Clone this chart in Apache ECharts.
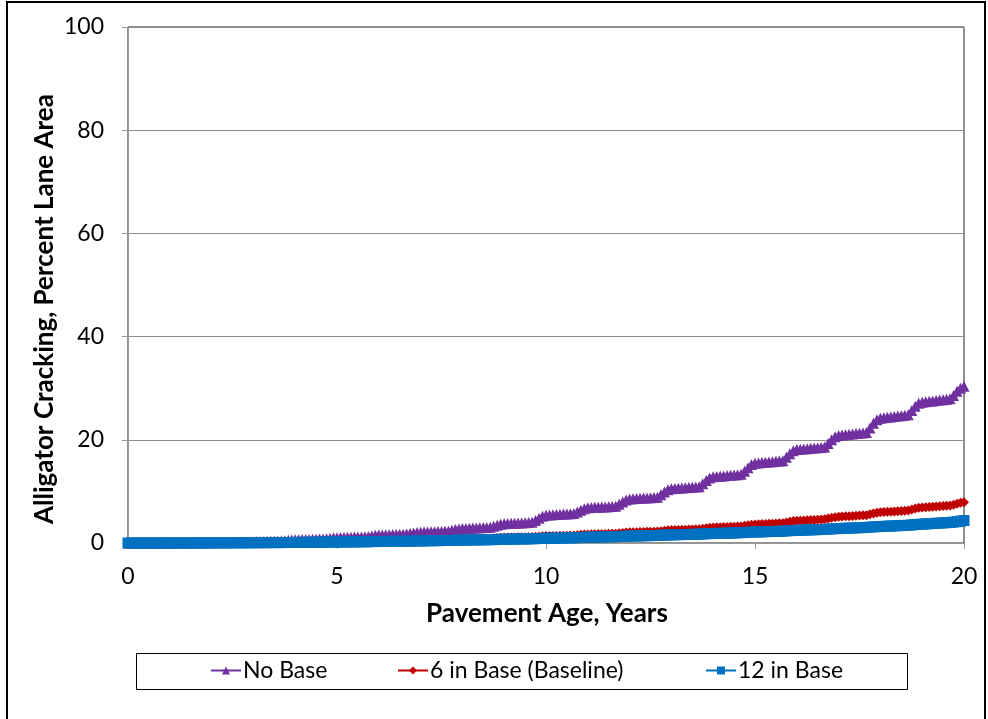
<!DOCTYPE html>
<html>
<head>
<meta charset="utf-8">
<script src="https://cdn.jsdelivr.net/npm/echarts@6/dist/echarts.min.js"></script>
<style>
html,body{margin:0;padding:0;background:#fff;}
#chart{width:988px;height:719px;}
</style>
</head>
<body>
<div id="chart"></div>
<script>
// Monthly observations from age 0 to 20 years (241 points per series)
const seriesNames = ["No Base", "6 in Base (Baseline)", "12 in Base"];
const xTicks = [0, 5, 10, 15, 20];
const yTicks = [0, 20, 40, 60, 80, 100];

const noBase = [
  0,0,0,0,0,0,0,0.01,0.01,0.01,0.02,0.02,
  0.03,0.03,0.03,0.03,0.03,0.04,0.04,0.04,0.05,0.06,0.07,0.08,
  0.09,0.09,0.10,0.10,0.10,0.11,0.11,0.11,0.12,0.14,0.17,0.20,
  0.24,0.27,0.29,0.31,0.33,0.35,0.36,0.38,0.40,0.45,0.52,0.58,
  0.62,0.64,0.66,0.68,0.70,0.72,0.74,0.76,0.78,0.84,0.92,1.00,
  1.04,1.06,1.08,1.10,1.12,1.14,1.16,1.18,1.20,1.28,1.38,1.48,
  1.54,1.56,1.58,1.61,1.63,1.65,1.68,1.70,1.72,1.82,1.95,2.05,
  2.10,2.12,2.15,2.18,2.20,2.22,2.25,2.28,2.30,2.45,2.60,2.72,
  2.80,2.83,2.86,2.89,2.92,2.95,2.98,3.02,3.05,3.25,3.45,3.65,
  3.75,3.78,3.81,3.84,3.87,3.90,3.93,3.96,4.00,4.35,4.80,5.20,
  5.40,5.44,5.48,5.52,5.56,5.60,5.64,5.68,5.72,6.00,6.35,6.65,
  6.85,6.88,6.91,6.94,6.97,7.00,7.03,7.06,7.10,7.50,7.95,8.35,
  8.55,8.58,8.62,8.66,8.70,8.74,8.78,8.82,8.86,9.35,9.90,10.30,
  10.50,10.55,10.60,10.65,10.70,10.75,10.80,10.85,10.90,11.50,12.10,12.60,
  12.85,12.90,12.95,13.00,13.06,13.12,13.18,13.24,13.30,13.90,14.60,15.20,
  15.45,15.52,15.58,15.64,15.70,15.76,15.82,15.88,15.95,16.60,17.30,17.90,
  18.10,18.16,18.22,18.28,18.34,18.40,18.46,18.52,18.60,19.30,20.00,20.60,
  20.85,20.92,20.99,21.06,21.13,21.20,21.27,21.34,21.42,22.30,23.20,23.90,
  24.20,24.28,24.36,24.44,24.52,24.60,24.68,24.76,24.85,25.70,26.50,27.10,
  27.30,27.38,27.46,27.54,27.62,27.70,27.78,27.86,27.95,28.60,29.40,30.00,
  30.40
];

const sixInBase = [
  0,0,0,0,0,0,0,0,0,0,0.01,0.01,
  0.01,0.01,0.01,0.01,0.01,0.02,0.02,0.02,0.02,0.02,0.03,0.03,
  0.03,0.03,0.03,0.04,0.04,0.04,0.04,0.04,0.05,0.05,0.06,0.06,
  0.06,0.07,0.07,0.07,0.08,0.08,0.08,0.09,0.09,0.10,0.11,0.12,
  0.13,0.13,0.14,0.14,0.15,0.15,0.16,0.16,0.17,0.18,0.20,0.22,
  0.23,0.24,0.25,0.26,0.27,0.28,0.29,0.30,0.31,0.33,0.36,0.39,
  0.40,0.41,0.42,0.43,0.44,0.45,0.46,0.47,0.48,0.51,0.54,0.57,
  0.59,0.60,0.61,0.62,0.63,0.64,0.65,0.66,0.67,0.70,0.74,0.78,
  0.80,0.81,0.82,0.83,0.84,0.86,0.87,0.88,0.89,0.93,0.98,1.03,
  1.05,1.06,1.07,1.08,1.10,1.11,1.12,1.13,1.15,1.20,1.26,1.31,
  1.34,1.35,1.37,1.38,1.40,1.41,1.42,1.44,1.45,1.51,1.58,1.64,
  1.67,1.69,1.70,1.72,1.74,1.75,1.77,1.79,1.81,1.88,1.96,2.03,
  2.06,2.08,2.10,2.12,2.14,2.16,2.18,2.20,2.22,2.30,2.39,2.46,
  2.50,2.52,2.54,2.57,2.59,2.61,2.63,2.66,2.68,2.78,2.88,2.96,
  3.00,3.03,3.06,3.08,3.11,3.14,3.16,3.19,3.22,3.33,3.45,3.55,
  3.60,3.63,3.66,3.69,3.72,3.75,3.78,3.81,3.85,3.98,4.12,4.24,
  4.30,4.33,4.37,4.40,4.44,4.47,4.51,4.54,4.58,4.73,4.88,5.00,
  5.08,5.12,5.16,5.20,5.24,5.28,5.32,5.36,5.40,5.56,5.74,5.88,
  5.96,6.00,6.04,6.08,6.12,6.16,6.20,6.25,6.30,6.48,6.67,6.82,
  6.90,6.94,6.98,7.02,7.06,7.10,7.15,7.20,7.25,7.42,7.62,7.78,
  7.90
];

const twelveInBase = [
  0,0,0,0,0,0,0,0,0,0,0,0,
  0.01,0.01,0.01,0.01,0.01,0.01,0.01,0.01,0.02,0.02,0.02,0.02,
  0.02,0.02,0.03,0.03,0.03,0.03,0.03,0.04,0.04,0.04,0.05,0.05,
  0.05,0.06,0.06,0.06,0.07,0.07,0.07,0.08,0.08,0.09,0.10,0.10,
  0.11,0.11,0.12,0.12,0.13,0.13,0.14,0.14,0.15,0.16,0.17,0.18,
  0.19,0.19,0.20,0.21,0.21,0.22,0.23,0.23,0.24,0.25,0.27,0.28,
  0.29,0.30,0.30,0.31,0.32,0.33,0.33,0.34,0.35,0.37,0.39,0.40,
  0.41,0.42,0.43,0.44,0.45,0.46,0.47,0.48,0.49,0.51,0.53,0.55,
  0.56,0.57,0.58,0.59,0.60,0.61,0.62,0.63,0.64,0.66,0.69,0.71,
  0.72,0.73,0.74,0.76,0.77,0.78,0.79,0.80,0.82,0.84,0.87,0.89,
  0.91,0.92,0.93,0.95,0.96,0.97,0.99,1.00,1.01,1.04,1.07,1.10,
  1.11,1.13,1.14,1.16,1.17,1.19,1.20,1.22,1.23,1.26,1.29,1.32,
  1.34,1.35,1.37,1.38,1.40,1.42,1.43,1.45,1.47,1.50,1.53,1.56,
  1.58,1.60,1.61,1.63,1.65,1.67,1.68,1.70,1.72,1.75,1.79,1.82,
  1.84,1.86,1.88,1.90,1.92,1.94,1.96,1.98,2.00,2.04,2.08,2.11,
  2.13,2.15,2.17,2.19,2.21,2.24,2.26,2.28,2.30,2.35,2.39,2.43,
  2.45,2.48,2.50,2.52,2.55,2.57,2.59,2.62,2.64,2.69,2.74,2.78,
  2.80,2.83,2.86,2.88,2.91,2.94,2.96,2.99,3.02,3.07,3.13,3.17,
  3.20,3.23,3.26,3.29,3.32,3.35,3.38,3.41,3.44,3.50,3.57,3.62,
  3.66,3.70,3.74,3.78,3.82,3.86,3.90,3.94,3.98,4.05,4.14,4.24,
  4.35
];

const colors = ["#7030A0", "#C00000", "#0070C0"];
const symbols = ["triangle", "diamond", "rect"];
const symbolSizes = [11, 10, 11];

function toPairs(vals) {
  // x = pavement age in years for each monthly observation
  return vals.map((v, i) => [i / 12, v]);
}

const FONT = "Lato, 'Open Sans', sans-serif";
const chart = echarts.init(document.getElementById('chart'), null, {renderer: 'canvas'});

const allData = [noBase, sixInBase, twelveInBase];
const series = allData.map((vals, k) => ({
  name: seriesNames[k],
  type: 'line',
  data: toPairs(vals),
  symbol: symbols[k],
  symbolSize: symbolSizes[k],
  showSymbol: true,
  showAllSymbol: true,
  color: colors[k],
  lineStyle: {color: colors[k], width: 3},
  itemStyle: {color: colors[k]},
  z: 3 + k,
  animation: false
}));

const legendLefts = [210, 397, 705];
const legends = seriesNames.map((n, k) => ({
  data: [n],
  left: legendLefts[k],
  top: 659,
  padding: 0,
  itemWidth: 30,
  itemHeight: 10,
  textStyle: {fontFamily: FONT, fontSize: 23, color: '#000', padding: [0, 0, 0, -3]},
  selectedMode: false
}));

chart.setOption({
  backgroundColor: '#fff',
  animation: false,
  textStyle: {fontFamily: FONT},
  grid: {
    left: 128, right: 24, top: 27, bottom: 176,
    show: true, borderColor: '#222', borderWidth: 1, backgroundColor: 'transparent'
  },
  xAxis: {
    type: 'value', min: 0, max: 20, interval: 5,
    axisLine: {show: true, lineStyle: {color: '#999', width: 1}},
    axisTick: {show: true, length: 6, lineStyle: {color: '#999'}},
    splitLine: {show: false},
    axisLabel: {
      margin: 22, fontSize: 23, color: '#000', fontFamily: FONT,
      formatter: v => xTicks.includes(v) ? String(v) : ''
    }
  },
  yAxis: {
    type: 'value', min: 0, max: 100, interval: 20,
    axisLine: {show: true, lineStyle: {color: '#999', width: 1}},
    axisTick: {show: true, length: 6, lineStyle: {color: '#999'}},
    splitLine: {show: true, lineStyle: {color: '#8c8c8c', width: 1}},
    axisLabel: {
      margin: 24, fontSize: 23, color: '#000', fontFamily: FONT,
      formatter: v => yTicks.includes(v) ? String(v) : ''
    }
  },
  legend: legends,
  graphic: [
    {type: 'rect', shape: {x: 7, y: 2, width: 978, height: 740},
     style: {fill: 'none', stroke: '#000', lineWidth: 2}, silent: true, z: -10},
    {type: 'rect', shape: {x: 136.5, y: 653.5, width: 771, height: 36},
     style: {fill: '#fff', stroke: '#000', lineWidth: 1}, silent: true, z: -5},
    {type: 'text', x: 45, y: 309, rotation: Math.PI / 2,
     style: {text: 'Alligator Cracking, Percent Lane Area', font: 'bold 26px ' + FONT,
             fill: '#000', textAlign: 'center', textVerticalAlign: 'middle'}},
    {type: 'text', x: 547, y: 614,
     style: {text: 'Pavement Age, Years', font: 'bold 26px ' + FONT,
             fill: '#000', textAlign: 'center', textVerticalAlign: 'middle'}}
  ],
  series: series
});
</script>
</body>
</html>
